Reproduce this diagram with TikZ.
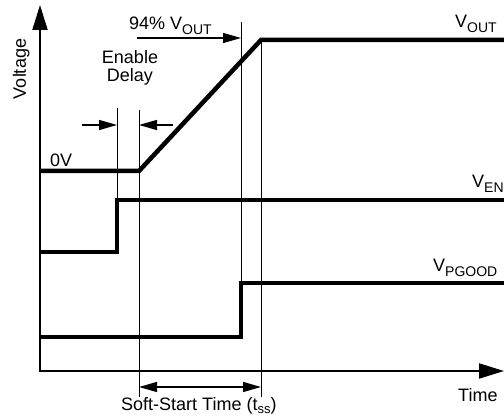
\documentclass[tikz,border=0pt]{standalone}
\usepackage{fontspec}
\setmainfont{Liberation Sans}
\usetikzlibrary{arrows.meta}

\newcommand{\lowsub}[1]{\raisebox{-5pt}{\fontsize{14}{14}\selectfont #1}}
\newcommand{\smallsub}[1]{\raisebox{-3pt}{\fontsize{13}{13}\selectfont #1}}

\begin{document}
\begin{tikzpicture}[
    x=1pt, y=-1pt,
    lbl/.style={inner sep=0pt, font=\fontsize{18}{18}\selectfont},
    trace/.style={line width=4.5pt, line join=miter},
    guide/.style={line width=1pt},
    axis/.style={line width=2pt, -{Triangle[length=25pt,width=15pt]}},
    dim/.style={line width=1.2pt, -{Triangle[length=18pt,width=10pt]}}
]
\useasboundingbox (0,0) rectangle (504,419);

% Axes
\coordinate (o) at (40,371);
\coordinate (ytop) at (40,5);
\coordinate (xend) at (504,371);
\draw[axis] (40,372) -- (ytop);
\draw[axis] (o) -- (xend);

% Guide lines
\draw[guide] (117,108) -- (117,200);
\draw[guide] (139,110) -- (139,397);
\draw[guide] (241,22) -- (241,283);
\draw[guide] (261,40) -- (261,397);

% Traces
\draw[trace] (40,171) -- (139,171) -- (261,40) -- (505,40);
\draw[trace] (40,252) -- (117,252) -- (117,200) -- (505,200);
\draw[trace] (40,337) -- (241,337) -- (241,283) -- (505,283);

% Dimension arrows
\coordinate (ed1) at (82,125);
\coordinate (ed2) at (117,125);
\coordinate (ed3) at (173,125);
\coordinate (ed4) at (139,125);
\draw[dim] (ed1) -- (ed2);
\draw[dim] (ed3) -- (ed4);

\coordinate (p1) at (137,38);
\coordinate (p2) at (241,38);
\draw[dim] (p1) -- (p2);

\coordinate (ss1) at (139,387);
\coordinate (ss2) at (261,387);
\draw[dim, {Triangle[length=18pt,width=10pt]}-{Triangle[length=18pt,width=10pt]}] (ss1) -- (ss2);

% Labels
\node[lbl, rotate=90, anchor=base] (volt) at (26,69) {Voltage};
\node[lbl, align=center, anchor=base] (en) at (130,82) {Enable\\Delay};
\node[lbl, anchor=base west] (zero) at (50,167) {0V};
\node[lbl, anchor=base west] (pct) at (129,30) {94\% V\lowsub{OUT}};
\node[lbl, anchor=base west] (vout) at (455,28) {V\lowsub{OUT}};
\node[lbl, anchor=base west] (ven) at (472,188) {V\lowsub{EN}};
\node[lbl, anchor=base west] (vpg) at (433,272) {V\lowsub{PGOOD}};
\node[lbl, anchor=base west] (time) at (458,402) {Time};
\node[lbl, anchor=base west] (tss) at (121,411) {Soft-Start Time (t\smallsub{ss})};

\end{tikzpicture}
\end{document}
